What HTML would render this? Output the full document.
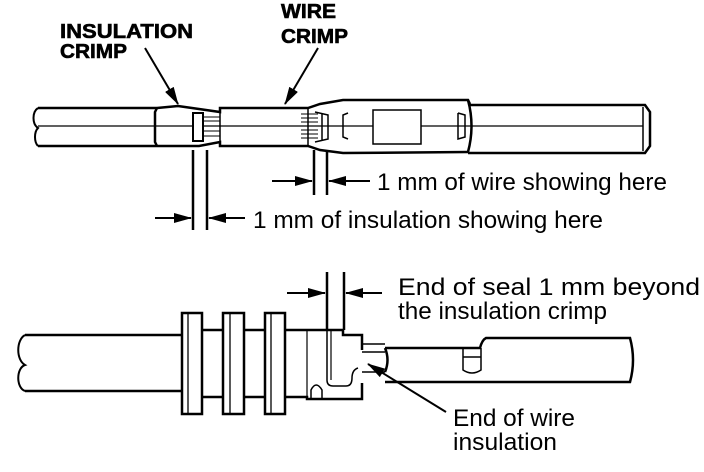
<!DOCTYPE html>
<html><head><meta charset="utf-8"><style>
html,body{margin:0;padding:0;background:#fff;width:704px;height:472px;overflow:hidden}
svg{display:block}
text{font-family:"Liberation Sans",Arial,sans-serif;fill:#000}
</style></head><body>
<svg width="704" height="472" viewBox="0 0 704 472" xmlns="http://www.w3.org/2000/svg">
<defs>
<marker id="b" markerWidth="18" markerHeight="10" refX="17" refY="5" orient="auto" markerUnits="userSpaceOnUse"><path d="M0,0 L18,5 L0,10 Z" fill="#000"/></marker>
</defs>
<g fill="none" stroke="#000" stroke-width="2.5">
<!-- TOP -->
<path d="M38,108 L157,108 M38,146 L157,146"/>
<path d="M38,108 C32,112 32,124 38,128 C34,132 34,142 38,146" stroke-width="2"/>
<path d="M157,108 L178,106 L199,109 L220,112 L220,108 L308,108 L320,104 L343,100 L468,100 L470,104 M157,146 L199,146 L220,142 L220,146 L308,146 L320,150 L343,153 L468,152"/>
<path d="M157,108 L155,112 L155,142 L157,146"/>
<path d="M468,100 Q475,126 468,152"/>
<path d="M470,105 L645,105 L650,112 L650,146 L645,153 L468,153"/>
<path d="M643,107 L643,151" stroke-width="1.5"/>
<path d="M220,112 L220,142 M308,108 L308,146" stroke-width="1.5"/>
<path d="M38,126 L193,126 M203,126 L373,126 M421,126 L643,126" stroke-width="1.2"/>
<rect x="193" y="113" width="10" height="28" stroke-width="2"/>
<path d="M203,117 L220,117 M203,121 L220,121 M203,126 L220,126 M203,131 L220,131 M203,136 L220,136" stroke-width="1"/>
<path d="M301,114 L318,114 M301,118 L318,118 M301,122 L318,122 M301,130 L318,130 M301,134 L318,134 M301,138 L318,138" stroke-width="1"/>
<path d="M315,112 L328,115 L328,139 L315,142 M322,113 L322,141" stroke-width="1.5"/>
<path d="M348,113 L343,115 L343,137 L348,139" stroke-width="1.5"/>
<rect x="373" y="110" width="48" height="34" stroke-width="1.5"/>
<path d="M458,113 L465,115 L465,137 L458,139 L458,113" stroke-width="1.5"/>
<path d="M193,150 L193,230 M207,150 L207,230" />
<path d="M314,150 L314,195 M327,150 L327,195" />
<line x1="155" y1="218" x2="191" y2="218" stroke-width="2" marker-end="url(#b)"/>
<line x1="245" y1="218" x2="209" y2="218" stroke-width="2" marker-end="url(#b)"/>
<line x1="272" y1="181" x2="312" y2="181" stroke-width="2" marker-end="url(#b)"/>
<line x1="370" y1="181" x2="329" y2="181" stroke-width="2" marker-end="url(#b)"/>
<line x1="145" y1="48" x2="178" y2="104" stroke-width="2" marker-end="url(#b)"/>
<line x1="318" y1="48" x2="285" y2="104" stroke-width="2" marker-end="url(#b)"/>

<!-- BOTTOM -->
<path d="M25,335 L182,335 M25,391 L182,391"/>
<path d="M25,335 C16,340 16,360 25,365 C16,368 16,388 25,391" stroke-width="2"/>
<rect x="182" y="313" width="20" height="101"/>
<rect x="223" y="313" width="21" height="101"/>
<rect x="265" y="313" width="20" height="101"/>
<path d="M188,313 L188,414 M230,313 L230,414 M271,313 L271,414" stroke-width="1.3"/>
<path d="M202,330 L223,330 M244,330 L265,330 M285,330 L343,330 L343,335 L362,335 L362,350 M202,397 L223,397 M244,397 L265,397 M285,397 L307,397 L307,399 L362,399 L362,383"/>
<path d="M307,330 L307,397 M331,330 L331,380" stroke-width="1.2"/>
<path d="M327,330 L327,380 Q327,386 333,386 L346,386 Q352,386 352,378 Q352,370 358,368" stroke-width="1.5"/>
<path d="M311,398 L311,390 Q316,380 322,390 L322,398" stroke-width="1.5"/>
<path d="M362,344 L385,344 M362,352 L385,352 M362,372 L385,372" stroke-width="1.5"/>
<path d="M385,348 L480,348 Q482,340 486,338 L630,338 Q636,360 630,382 L385,382 M385,348 Q390,360 385,372"/>
<path d="M463,348 L463,370 Q472,376 481,370 L481,348 M463,357 L481,357" stroke-width="1.5"/>
<path d="M327,272 L327,330 M344,272 L344,330"/>
<line x1="287" y1="293" x2="325" y2="293" stroke-width="2" marker-end="url(#b)"/>
<line x1="382" y1="293" x2="346" y2="293" stroke-width="2" marker-end="url(#b)"/>
<line x1="446" y1="412" x2="368" y2="364" stroke-width="2" marker-end="url(#b)"/>
</g>
<g font-weight="bold" font-size="20" stroke="#000" stroke-width="0.6">
<text x="60" y="38" textLength="133" lengthAdjust="spacingAndGlyphs">INSULATION</text>
<text x="60" y="58" textLength="67" lengthAdjust="spacingAndGlyphs">CRIMP</text>
<text x="281" y="18" textLength="55" lengthAdjust="spacingAndGlyphs">WIRE</text>
<text x="281" y="43" textLength="67" lengthAdjust="spacingAndGlyphs">CRIMP</text>
</g>
<g font-size="24">
<text x="377" y="190" textLength="290" lengthAdjust="spacingAndGlyphs">1 mm of wire showing here</text>
<text x="253" y="228" textLength="350" lengthAdjust="spacingAndGlyphs">1 mm of insulation showing here</text>
<text x="398" y="295" textLength="302" lengthAdjust="spacingAndGlyphs">End of seal 1 mm beyond</text>
<text x="398" y="319" textLength="209" lengthAdjust="spacingAndGlyphs">the insulation crimp</text>
<text x="453" y="426" textLength="122" lengthAdjust="spacingAndGlyphs">End of wire</text>
<text x="453" y="450" textLength="104" lengthAdjust="spacingAndGlyphs">insulation</text>
</g>
</svg>
</body></html>
